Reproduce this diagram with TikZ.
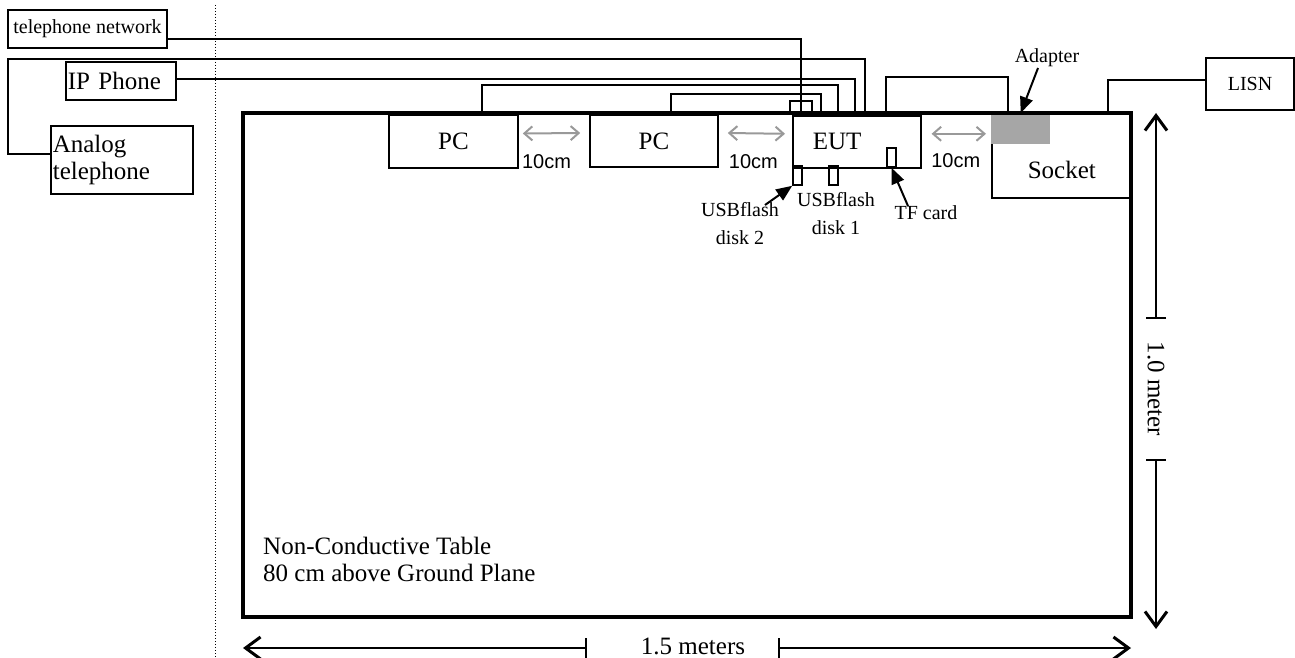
\documentclass[tikz,border=0pt]{standalone}
\usepackage{fontspec}
\setmainfont{Liberation Serif}
\setsansfont{Liberation Sans}
\usepackage{tikz}
\usetikzlibrary{arrows.meta}
\definecolor{gapgray}{HTML}{999999}
\definecolor{adaptergray}{HTML}{A6A6A6}

\begin{document}
\begin{tikzpicture}[x=1pt,y=-1pt]
\tikzset{box/.style = {shape=rectangle,draw,line width=1.6pt,inner sep=0pt}}
\tikzset{bigtext/.style = {font=\fontsize{25}{27}\selectfont}}
\tikzset{smalltext/.style = {font=\fontsize{20}{28}\selectfont}}
\tikzset{sanstext/.style = {font=\sffamily\fontsize{20}{24}\selectfont,inner sep=0pt}}
\tikzset{cable/.style = {line width=2pt}}
\tikzset{gaparrow/.style = {draw=gapgray,line width=2pt,{Straight Barb[length=8pt,width=14pt]}-{Straight Barb[length=8pt,width=14pt]}}}
\tikzset{pointer/.style = {line width=2pt,-{Triangle[length=16pt,width=13pt]}}}
\tikzset{dim/.style = {line width=2pt,{Straight Barb[length=15pt,width=22pt,line width=3pt]}-{Bar[width=20pt]}}}
\useasboundingbox (0,0) rectangle (1295,658);
\draw[dotted,line width=1pt] (215,5) -- (215,658);
% boxes off the table
\node[box,smalltext,minimum width=159,minimum height=38] (telnet) at (87.5,29) {telephone network};
\node[box,bigtext,anchor=west,minimum width=110,minimum height=38,inner xsep=2pt,text width=106pt,align=left] (ipphone) at (65,81) {IP Phone};
\node[box,bigtext,anchor=north west,minimum width=142,minimum height=68,inner xsep=2pt,text width=138pt,align=left] (analog) at (50,125) {Analog\\telephone};
\node[box,smalltext,minimum width=88,minimum height=52] (lisn) at (1250,84) {LISN};
% boxes on the table
\node[box,bigtext,minimum width=129,minimum height=53] (pc1) at (453.5,141.5) {PC};
\node[box,bigtext,minimum width=128,minimum height=52] (pc2) at (654,141) {PC};
\node[box,bigtext,anchor=north west,minimum width=128,minimum height=52,inner xsep=20pt,text width=88pt,align=left] (eut) at (792,115) {EUT};
\node[box,bigtext,anchor=north west,minimum width=140,inner ysep=0pt,text height=65pt,text depth=19pt] (socket) at (991,113) {Socket};
\node[fill=adaptergray,anchor=north west,minimum width=59,minimum height=31,inner sep=0pt] (adapter) at (991,113) {};
\node[box,minimum width=22,minimum height=12] (port) at (801,107) {};
\node[box,minimum width=9,minimum height=19] (usba) at (797.5,175.5) {};
\node[box,minimum width=9,minimum height=19] (usbb) at (833.5,175.5) {};
\node[box,minimum width=9,minimum height=19] (tf) at (891.5,157.5) {};
\node[draw,line width=4pt,anchor=north west,minimum width=888,minimum height=504,inner sep=0pt,outer sep=0pt] (tbl) at (243,113) {};
% labels
\node[bigtext,inner sep=0pt,anchor=west,align=left] (tblnote) at (263,559.5) {Non-Conductive Table\\80 cm above Ground Plane};
\node[smalltext,inner sep=0pt,align=center] (usb2lbl) at (740,224) {USBflash\\disk 2};
\node[smalltext,inner sep=0pt,align=center] (usb1lbl) at (836,214) {USBflash\\disk 1};
\node[smalltext,inner sep=0pt] (tflbl) at (926,213) {TF card};
\node[smalltext,inner sep=0pt] (adlbl) at (1047,58) {Adapter};
\node[bigtext,inner sep=0pt] (hlen) at (693,646) {1.5 meters};
\node[bigtext,inner sep=0pt,rotate=-90] (vlen) at (1156,389) {1.0 meter};
% cables
\draw[cable] ([yshift=-10pt]telnet.east) -| (port.south);
\draw[cable] ([yshift=6pt]analog.west) -- ++(-42,0) -- ++(0,-95) -| ([xshift=73pt]eut.north west);
\draw[cable] ([yshift=2pt]ipphone.east) -| ([xshift=63pt]eut.north west);
\draw[cable] ([xshift=28pt]pc1.north) -- ++(0,-29) -| ([xshift=46pt]eut.north west);
\draw[cable] ([xshift=17pt]pc2.north) -- ++(0,-20) -| ([xshift=29pt]eut.north west);
\draw[cable] ([xshift=29pt]eut.north) -- ++(0,-38) -| ([xshift=17pt]socket.north west);
\draw[cable] ([yshift=4pt]lisn.west) -| ([xshift=117pt]socket.north west);
% spacing
\draw[gaparrow] ([shift={(4pt,8pt)}]pc1.east) to node[sanstext,midway,yshift=-28pt,xshift=-5pt] {10cm} ([shift={(-9pt,8pt)}]pc2.west);
\draw[gaparrow] ([shift={(9pt,8pt)}]pc2.east) to node[sanstext,midway,yshift=-28pt,xshift=-3pt] {10cm} ([shift={(-7pt,8pt)}]eut.west);
\draw[gaparrow] ([shift={(10pt,8pt)}]eut.east) to node[sanstext,midway,yshift=-27pt,xshift=-3pt] {10cm} ([shift={(-5pt,22pt)}]socket.west);
% pointers
\draw[pointer] ([shift={(25pt,19pt)}]usb2lbl.center) to (usba.south west);
\draw[pointer] ([shift={(-18pt,7pt)}]tflbl.center) to (tf.south);
\draw[pointer] ([shift={(-9pt,-10pt)}]adlbl.center) to (adapter.north);
% dimensions
\draw[dim] ([yshift=-31pt]tbl.south west) -- ++(344,0);
\draw[dim] ([yshift=-31pt]tbl.south east) -- ++(-353,0);
\draw[dim] ([xshift=25pt]tbl.north east) -- ++(0,206);
\draw[dim] ([shift={(25pt,-12pt)}]tbl.south east) -- ++(0,-170);
\end{tikzpicture}
\end{document}
